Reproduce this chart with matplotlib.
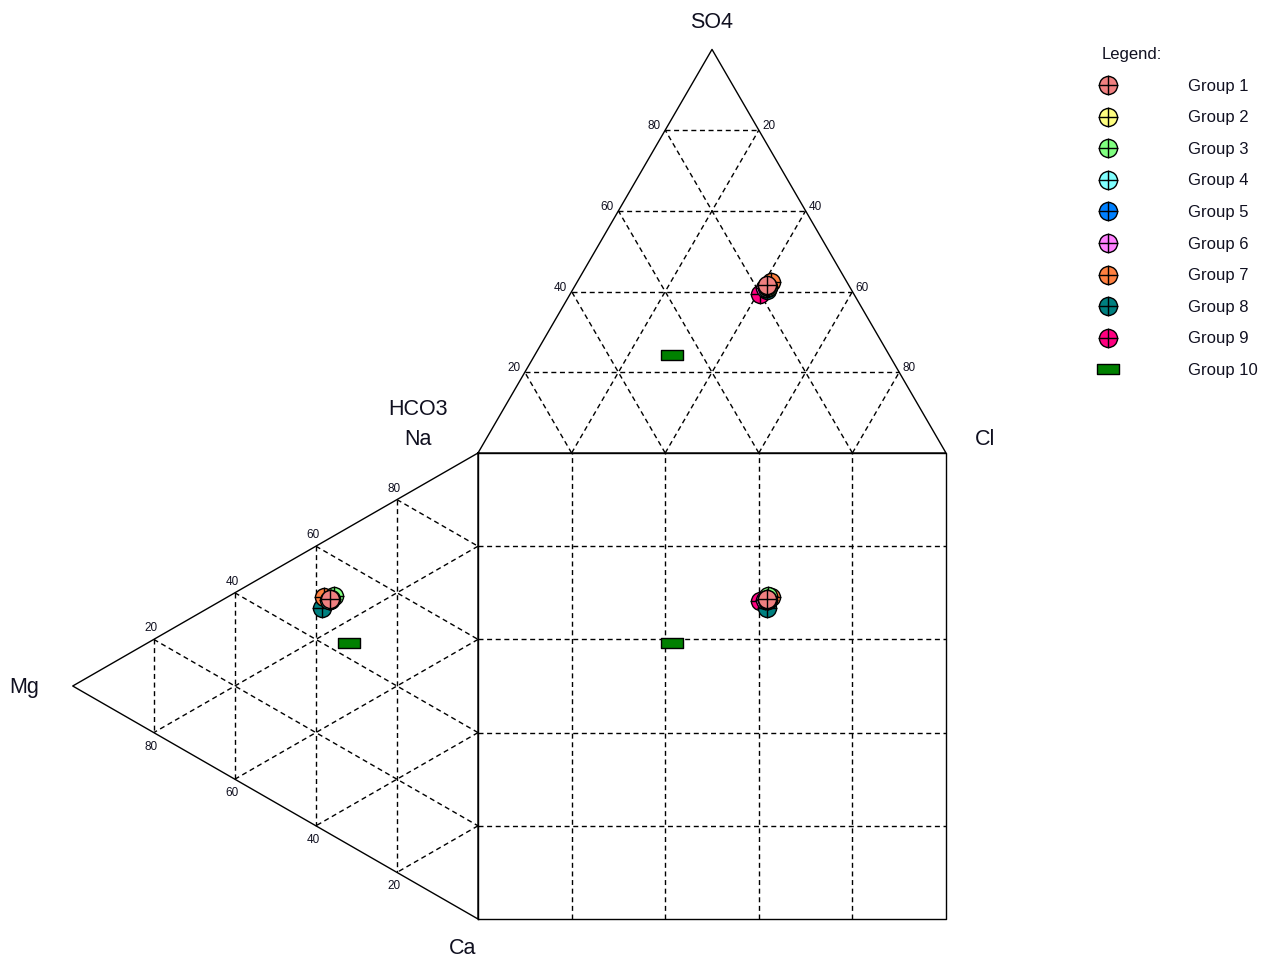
import numpy as np
import matplotlib.pyplot as plt
from matplotlib.path import Path

plt.rcParams['font.family'] = ['Liberation Sans', 'DejaVu Sans']

# group names and colours
groups = ['Group 1', 'Group 2', 'Group 3', 'Group 4', 'Group 5',
          'Group 6', 'Group 7', 'Group 8', 'Group 9', 'Group 10']
colors = ['#f08080', '#ffff80', '#80ff80', '#80ffff', '#0080ff',
          '#ff80ff', '#ff8040', '#008080', '#ff0080', '#008000']

# anions (% meq)
so4 = [41.6, 41.4, 41.1, 41.0, 41.2, 40.9, 42.4, 40.4, 39.4, 24.3]
cl = [41.0, 41.1, 41.4, 41.2, 41.3, 40.9, 41.4, 41.6, 40.6, 29.4]
hco3 = [17.4, 17.5, 17.5, 17.8, 17.5, 18.2, 16.2, 18.0, 20.0, 46.3]

# cations (% meq)
na = [50.4, 50.5, 51.6, 50.0, 50.2, 50.2, 50.1, 47.5, 49.5, 43.3]
mg = [36.5, 36.3, 35.5, 36.7, 36.6, 36.5, 38.0, 38.5, 37.5, 31.8]
ca = [13.1, 13.2, 12.9, 13.3, 13.2, 13.3, 11.9, 14.0, 13.0, 24.9]

levels = [20, 40, 60, 80]

H = np.sqrt(3) / 2


def anion_xy(s, c, h):
    tot = s + c + h
    s, c = 100.0 * s / tot, 100.0 * c / tot
    return c + s / 2, 100 + s * H


def cation_xy(n, m, c):
    tot = n + m + c
    n, m = 100.0 * n / tot, 100.0 * m / tot
    return -m * H, n + m / 2


def seg(ax, p0, p1, **kw):
    ax.plot([p0[0], p1[0]], [p0[1], p1[1]], **kw)


fig = plt.figure(figsize=(12.62, 9.62), dpi=100)
ax = fig.add_axes([0, 0, 1, 1])
ax.set_xlim(-102.14, 167.52)
ax.set_ylim(-9.01, 197.42)
ax.axis('off')

solid = dict(color='black', lw=1.0, zorder=2)
dash = dict(color='black', lw=1.0, ls=(0, (3.6, 2.6)), zorder=1)

# outlines
tri_top = [anion_xy(0, 0, 100), anion_xy(0, 100, 0), anion_xy(100, 0, 0), anion_xy(0, 0, 100)]
ax.plot([p[0] for p in tri_top], [p[1] for p in tri_top], **solid)
tri_left = [cation_xy(100, 0, 0), cation_xy(0, 100, 0), cation_xy(0, 0, 100), cation_xy(100, 0, 0)]
ax.plot([p[0] for p in tri_left], [p[1] for p in tri_left], **solid)
ax.plot([0, 100, 100, 0, 0], [0, 0, 100, 100, 0], **solid)

# grids
for v in levels:
    w = 100 - v
    seg(ax, anion_xy(v, 0, w), anion_xy(v, w, 0), **dash)
    seg(ax, anion_xy(0, v, w), anion_xy(w, v, 0), **dash)
    seg(ax, anion_xy(0, w, v), anion_xy(w, 0, v), **dash)

    seg(ax, cation_xy(w, v, 0), cation_xy(0, v, w), **dash)
    seg(ax, cation_xy(v, w, 0), cation_xy(v, 0, w), **dash)
    seg(ax, cation_xy(w, 0, v), cation_xy(0, w, v), **dash)

    seg(ax, (v, 0), (v, 100), **dash)
    seg(ax, (0, v), (100, v), **dash)

# tick labels
tk = dict(fontsize=8.5, ha='center', va='center', textcoords='offset pixels', color='#101020')
for v in levels:
    ax.annotate(str(v), anion_xy(v, 0, 100 - v), xytext=(-11, 5), **tk)
    ax.annotate(str(100 - v), anion_xy(v, 100 - v, 0), xytext=(10, 5), **tk)
    ax.annotate(str(v), cation_xy(v, 100 - v, 0), xytext=(-3, 12), **tk)
    ax.annotate(str(v), cation_xy(0, v, 100 - v), xytext=(-3, -13), **tk)

# corner labels
lb = dict(fontsize=15.5, ha='center', va='center', textcoords='offset pixels', color='#101020')
ax.annotate('SO4', anion_xy(100, 0, 0), xytext=(0, 28), **lb)
ax.annotate('Cl', anion_xy(0, 100, 0), xytext=(39, 14), **lb)
ax.annotate('HCO3', anion_xy(0, 0, 100), xytext=(-60, 44), **lb)
ax.annotate('Na', cation_xy(100, 0, 0), xytext=(-60, 14), **lb)
ax.annotate('Mg', cation_xy(0, 100, 0), xytext=(-49, 0), **lb)
ax.annotate('Ca', cation_xy(0, 0, 100), xytext=(-15, -28), **lb)

rect = Path([(-1, -0.45), (1, -0.45), (1, 0.45), (-1, 0.45), (-1, -0.45)],
            [Path.MOVETO, Path.LINETO, Path.LINETO, Path.LINETO, Path.CLOSEPOLY])

# data points: group 10 first, then groups 9..1 so group 1 ends on top
for i in [9] + list(range(8, -1, -1)):
    ax_x, ax_y = anion_xy(so4[i], cl[i], hco3[i])
    cx, cy = cation_xy(na[i], mg[i], ca[i])
    xs = [ax_x, cx, ax_x]
    ys = [ax_y, cy, cy]
    if i == 9:
        ax.plot(xs, ys, ls='none', marker=rect, ms=16, mfc=colors[i],
                mec='black', mew=1.0, zorder=5)
    else:
        ax.plot(xs, ys, ls='none', marker='o', ms=13, mfc=colors[i],
                mec='black', mew=1.0, zorder=5)
        ax.plot(xs, ys, ls='none', marker='+', ms=14, mec='black',
                mew=1.0, zorder=5)

# legend
lg = fig.add_axes([0, 0, 1, 1])
lg.set_xlim(0, 1262)
lg.set_ylim(962, 0)
lg.axis('off')
lg.text(1102, 54, 'Legend:', fontsize=12, ha='left', va='center', color='#101020')
for i, name in enumerate(groups):
    y = 86 + 31.6 * i
    if i == 9:
        lg.plot([1108], [y], marker=rect, ms=16, mfc=colors[i], mec='black', mew=1.0)
    else:
        lg.plot([1108], [y], marker='o', ms=13, mfc=colors[i], mec='black', mew=1.0)
        lg.plot([1108], [y], marker='+', ms=14, mec='black', mew=1.0)
    lg.text(1188, y, name, fontsize=12, ha='left', va='center', color='#101020')

fig.savefig('out.png', dpi=100)
